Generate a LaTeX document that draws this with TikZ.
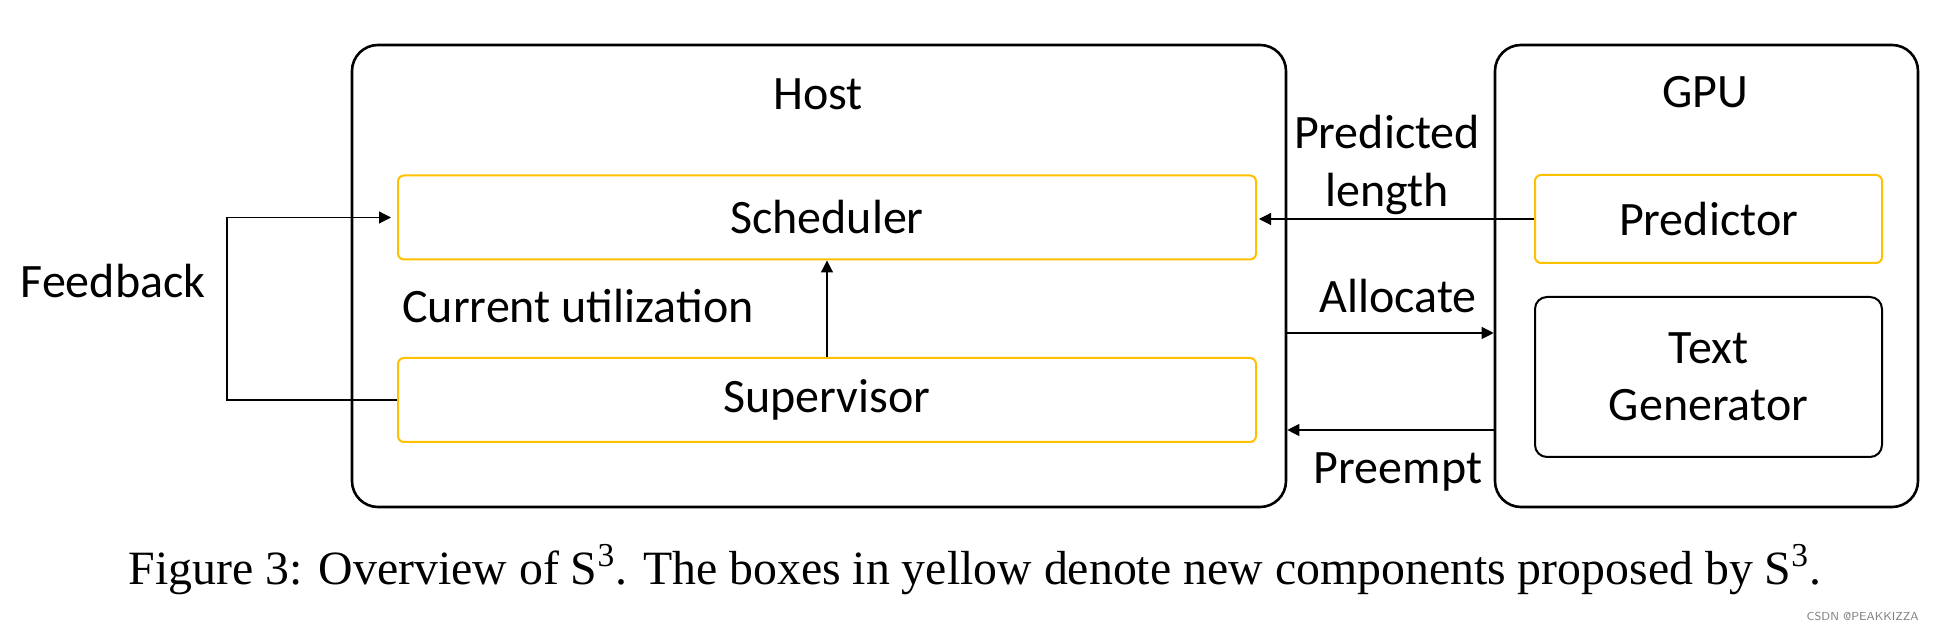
\documentclass[tikz,border=0pt]{standalone}
\usepackage{fontspec}
\setmainfont{Liberation Serif}
\newfontfamily\calibri{Carlito}
\usetikzlibrary{positioning, arrows.meta}
\definecolor{gold}{HTML}{FFC000}

\begin{document}
\begin{tikzpicture}[x=0.5pt, y=-0.5pt, font=\calibri\fontsize{24}{28}\selectfont, >={Triangle[length=6pt, width=6pt]},
		outer/.style={draw, line width=1.3pt, rounded corners=13pt, minimum width=#1, minimum height=231pt},
		comp/.style={draw=gold, line width=1pt, rounded corners=3pt, minimum width=#1, minimum height=42pt},
		lbl/.style={anchor=base, inner sep=0pt, align=center}]
		\useasboundingbox (0,0) rectangle (1935,635);
		\node[outer=467pt] (host) at (819,276) {};
		\node[outer=211.5pt] (gpu) at (1706.5,276) {};
		\node[comp=429pt] (sched) at (827,217.5) {Scheduler};
		\node[comp=429pt] (sup) at (827,400) {Supervisor};
		\node[comp=173.5pt, minimum height=44pt] (pred) at (1708.5,219) {Predictor};
		\node[draw, line width=1pt, rounded corners=6pt, minimum width=173.5pt, minimum height=80pt, align=center] (gen) at (1708.5,377) {Text\\[0.5pt]Generator};
		\node[lbl] (hostlbl) at (818,110) {Host};
		\node[lbl] (gpulbl) at (1705,108) {GPU};
		\node[lbl, anchor=base west] (util) at (402,323) {Current utilization};
		\node[lbl, font=\calibri\fontsize{24}{29}\selectfont] (predlen) at (1387,207) {Predicted\\length};
		\node[lbl] (alloc) at (1398,313) {Allocate};
		\node[lbl] (preempt) at (1398,484) {Preempt};
		\node[lbl] (feedback) at (113,298) {Feedback};
		\draw[->, line width=0.6pt] (sup.north) -- (sched.south);
		\draw[->, line width=0.6pt, shorten >=3pt] (sup.west) -- ++(-170,0) |- (sched.west);
		\draw[->, line width=0.6pt, shorten >=1pt] (pred.west) -- (pred.west -| sched.east);
		\draw[->, line width=0.6pt] (host.east |- 0,333) -- (gpu.west |- 0,333);
		\draw[->, line width=0.6pt] (gpu.west |- 0,430) -- (host.east |- 0,430);
		\node[lbl, font=\fontsize{23.9}{28}\selectfont] (caption) at (975,585) {Figure 3: Overview of S\textsuperscript{3}. The boxes in yellow denote new components proposed by S\textsuperscript{3}.};
		\node[lbl, anchor=base east, font=\sffamily\fontsize{5.8}{6}\selectfont, text=gray] (mark) at (1919,621) {CSDN @PEAKKIZZA};
	\end{tikzpicture}
\end{document}
